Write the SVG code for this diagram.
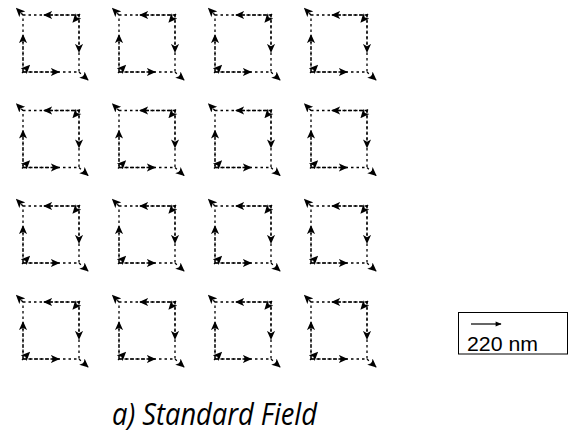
<svg xmlns="http://www.w3.org/2000/svg" xmlns:xlink="http://www.w3.org/1999/xlink" width="571" height="436" viewBox="0 0 571 436">
<style>
.dot{fill:none;stroke:#000;stroke-width:1.3;stroke-dasharray:2.5,3}
.arr{fill:none;stroke:#000;stroke-width:1.3;stroke-dasharray:2.5,3;marker-end:url(#ah)}
.lab{font-family:"Liberation Sans",Arial,sans-serif;font-size:20px;fill:#000}
.title{font-family:"Open Sans","Liberation Sans",sans-serif;font-style:italic;font-size:31px;fill:#000}
</style>
<defs>
<marker id="ah" viewBox="0 0 10 10" refX="9" refY="5" markerWidth="9" markerHeight="9" markerUnits="userSpaceOnUse" orient="auto">
<path d="M0,0.5 L10,5 L0,9.5 L2.5,5 Z" fill="#000"/>
</marker>
<marker id="ah2" viewBox="0 0 10 10" refX="9" refY="5" markerWidth="7" markerHeight="6" markerUnits="userSpaceOnUse" orient="auto">
<path d="M0,1 L10,5 L0,9 Z" fill="#000"/>
</marker>
<g id="cell">
<path class="dot" d="M0,0 H56 V57 H0 Z"/>
<line class="arr" x1="56" y1="0" x2="21" y2="0"/>
<line class="arr" x1="56" y1="0" x2="56" y2="37"/>
<line class="arr" x1="0" y1="57" x2="36" y2="57"/>
<line class="arr" x1="0" y1="57" x2="0" y2="20"/>
<line class="arr" x1="0" y1="0" x2="-6.5" y2="-6.5"/>
<line class="arr" x1="57" y1="-1" x2="50" y2="7"/>
<line class="arr" x1="56" y1="57" x2="65" y2="65"/>
<line class="arr" x1="-1" y1="58" x2="6.5" y2="50.5"/>
</g>
</defs>
<g id="nodes">
<use id="c11" xlink:href="#cell" x="23" y="15"/>
<use id="c12" xlink:href="#cell" x="119" y="15"/>
<use id="c13" xlink:href="#cell" x="215" y="15"/>
<use id="c14" xlink:href="#cell" x="311" y="15"/>
<use id="c21" xlink:href="#cell" x="23" y="110.5"/>
<use id="c22" xlink:href="#cell" x="119" y="110.5"/>
<use id="c23" xlink:href="#cell" x="215" y="110.5"/>
<use id="c24" xlink:href="#cell" x="311" y="110.5"/>
<use id="c31" xlink:href="#cell" x="23" y="206"/>
<use id="c32" xlink:href="#cell" x="119" y="206"/>
<use id="c33" xlink:href="#cell" x="215" y="206"/>
<use id="c34" xlink:href="#cell" x="311" y="206"/>
<use id="c41" xlink:href="#cell" x="23" y="302"/>
<use id="c42" xlink:href="#cell" x="119" y="302"/>
<use id="c43" xlink:href="#cell" x="215" y="302"/>
<use id="c44" xlink:href="#cell" x="311" y="302"/>
</g>
<g id="legend">
<rect x="458.5" y="312.5" width="109" height="41.5" fill="none" stroke="#000" stroke-width="1"/>
<line x1="471" y1="324" x2="501" y2="324" stroke="#000" stroke-width="1.2" marker-end="url(#ah2)"/>
<text class="lab" x="467" y="351" textLength="71" lengthAdjust="spacingAndGlyphs">220 nm</text>
</g>
<text id="title" class="title" x="112" y="425" textLength="205" lengthAdjust="spacingAndGlyphs">a) Standard Field</text>
</svg>
